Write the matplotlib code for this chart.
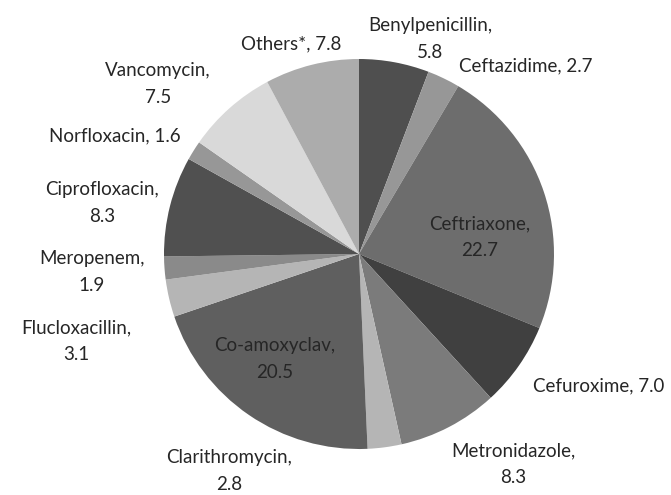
import matplotlib
matplotlib.use("Agg")
import matplotlib.pyplot as plt

# antibiotic share (%), clockwise from 12 o'clock
drugs = ['Benylpenicillin', 'Ceftazidime', 'Ceftriaxone', 'Cefuroxime',
         'Metronidazole', 'Clarithromycin', 'Co-amoxyclav', 'Flucloxacillin',
         'Meropenem', 'Ciprofloxacin', 'Norfloxacin', 'Vancomycin', 'Others*']
share = [5.8, 2.7, 22.7, 7.0, 8.3, 2.8, 20.5, 3.1, 1.9, 8.3, 1.6, 7.5, 7.8]

greys = ['#4f4f4f', '#979797', '#6d6d6d', '#404040', '#7b7b7b', '#b5b5b5',
         '#5f5f5f', '#b5b5b5', '#8a8a8a', '#505050', '#979797', '#d9d9d9',
         '#acacac']

# label layout in pixels (x, y from top), and whether name/value share a line
label_pos = [(430, 39), (526, 66), (480, 237), (599, 386), (513, 464),
             (229, 471), (275, 359), (76, 341), (92, 272), (102, 203),
             (115, 136), (158, 84), (291, 44)]
one_line = [False, True, False, True, False, False, False, False, False,
            False, True, False, True]

W, H = 671, 495
fig = plt.figure(figsize=(W / 100, H / 100), dpi=100)
ax = fig.add_axes([0, 0, 1, 1])

ax.pie(share, colors=greys, startangle=90, counterclock=False,
       center=(359, H - 254), radius=195,
       wedgeprops=dict(linewidth=0))

for name, val, (px, py), single in zip(drugs, share, label_pos, one_line):
    sep = ' ' if single else '\n'
    ax.text(px, H - py, f'{name},{sep}{val:.1f}', ha='center', va='center',
            fontsize=13.5, family=['Lato', 'DejaVu Sans'], color='#262626',
            linespacing=1.7)

ax.set_xlim(0, W)
ax.set_ylim(0, H)
ax.set_aspect('equal')
ax.axis('off')

fig.savefig('out.png', dpi=100)
